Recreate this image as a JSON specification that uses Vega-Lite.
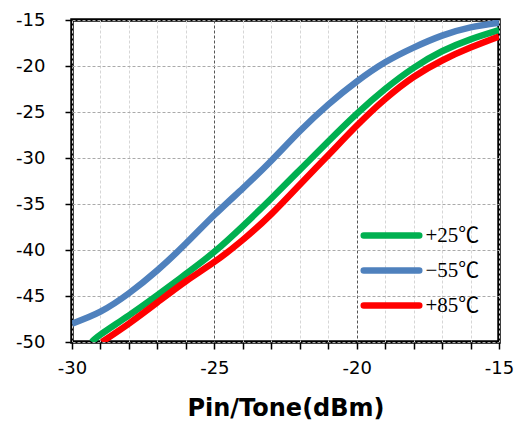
{
  "$schema": "https://vega.github.io/schema/vega-lite/v6.json",
  "width": 427,
  "height": 322,
  "autosize": {"type": "none"},
  "padding": {"left": 72, "top": 20, "right": 21, "bottom": 84},
  "background": "white",
  "config": {
    "view": {"stroke": "black", "strokeWidth": 3.5},
    "axis": {"domain": false, "tickColor": "black", "tickWidth": 1.5, "labelFont": "DejaVu Sans", "labelFontSize": 18, "labelColor": "black"}
  },
  "data": {
    "values": [
      {"x": -30, "y": -48.0, "T": "−55℃"},
      {"x": -29, "y": -46.7, "T": "−55℃"},
      {"x": -28, "y": -44.7, "T": "−55℃"},
      {"x": -27, "y": -42.2, "T": "−55℃"},
      {"x": -26, "y": -39.3, "T": "−55℃"},
      {"x": -25, "y": -36.2, "T": "−55℃"},
      {"x": -24, "y": -33.3, "T": "−55℃"},
      {"x": -23, "y": -30.3, "T": "−55℃"},
      {"x": -22, "y": -27.1, "T": "−55℃"},
      {"x": -21, "y": -24.2, "T": "−55℃"},
      {"x": -20, "y": -21.7, "T": "−55℃"},
      {"x": -19, "y": -19.6, "T": "−55℃"},
      {"x": -18, "y": -18.0, "T": "−55℃"},
      {"x": -17, "y": -16.7, "T": "−55℃"},
      {"x": -16, "y": -15.8, "T": "−55℃"},
      {"x": -15, "y": -15.3, "T": "−55℃"},
      {"x": -29.3, "y": -50, "T": "+25℃"},
      {"x": -29, "y": -49.2, "T": "+25℃"},
      {"x": -28, "y": -47.1, "T": "+25℃"},
      {"x": -27, "y": -44.9, "T": "+25℃"},
      {"x": -26, "y": -42.6, "T": "+25℃"},
      {"x": -25, "y": -40.2, "T": "+25℃"},
      {"x": -24, "y": -37.4, "T": "+25℃"},
      {"x": -23, "y": -34.4, "T": "+25℃"},
      {"x": -22, "y": -31.3, "T": "+25℃"},
      {"x": -21, "y": -28.2, "T": "+25℃"},
      {"x": -20, "y": -25.2, "T": "+25℃"},
      {"x": -19, "y": -22.5, "T": "+25℃"},
      {"x": -18, "y": -20.2, "T": "+25℃"},
      {"x": -17, "y": -18.4, "T": "+25℃"},
      {"x": -16, "y": -17.1, "T": "+25℃"},
      {"x": -15, "y": -16.1, "T": "+25℃"},
      {"x": -28.95, "y": -50, "T": "+85℃"},
      {"x": -28, "y": -48.0, "T": "+85℃"},
      {"x": -27, "y": -45.7, "T": "+85℃"},
      {"x": -26, "y": -43.4, "T": "+85℃"},
      {"x": -25, "y": -41.3, "T": "+85℃"},
      {"x": -24, "y": -38.9, "T": "+85℃"},
      {"x": -23, "y": -36.1, "T": "+85℃"},
      {"x": -22, "y": -32.9, "T": "+85℃"},
      {"x": -21, "y": -29.7, "T": "+85℃"},
      {"x": -20, "y": -26.5, "T": "+85℃"},
      {"x": -19, "y": -23.6, "T": "+85℃"},
      {"x": -18, "y": -21.2, "T": "+85℃"},
      {"x": -17, "y": -19.4, "T": "+85℃"},
      {"x": -16, "y": -18.0, "T": "+85℃"},
      {"x": -15, "y": -16.8, "T": "+85℃"}
    ]
  },
  "mark": {"type": "line", "strokeWidth": 6.5, "interpolate": "natural", "clip": true},
  "encoding": {
    "x": {
      "field": "x", "type": "quantitative",
      "scale": {"domain": [-30, -15], "nice": false, "zero": false},
      "axis": {
        "values": [-30, -29, -28, -27, -26, -25, -24, -23, -22, -21, -20, -19, -18, -17, -16, -15],
        "labelExpr": "datum.value % 5 === 0 ? replace(datum.label, '−', '-') : ''",
        "tickSize": 7,
        "labelPadding": 10,
        "labelFlush": false,
        "gridColor": {"condition": {"test": "datum.value === -25 || datum.value === -20", "value": "#555555"}, "value": "#d6d6d6"},
        "gridDash": [3, 2],
        "gridWidth": 1,
        "title": "Pin/Tone(dBm)",
        "titleFont": "DejaVu Sans",
        "titleFontSize": 24,
        "titleFontWeight": "bold",
        "titleColor": "black",
        "titlePadding": 19
      }
    },
    "y": {
      "field": "y", "type": "quantitative",
      "scale": {"domain": [-50, -15], "nice": false, "zero": false},
      "axis": {
        "values": [-50, -45, -40, -35, -30, -25, -20, -15],
        "labelExpr": "replace(datum.label, '−', '-')",
        "tickSize": 7,
        "labelPadding": 20,
        "labelFlush": false,
        "gridColor": "#aaaaaa",
        "gridDash": [3, 2],
        "gridWidth": 1,
        "title": null
      }
    },
    "color": {
      "field": "T", "type": "nominal",
      "scale": {"domain": ["+25℃", "−55℃", "+85℃"], "range": ["#00B050", "#4F81BD", "#FF0000"]},
      "legend": {
        "orient": "none",
        "legendX": 297.5,
        "legendY": 193.5,
        "title": null,
        "padding": 0,
        "rowPadding": 0,
        "symbolType": "M-1.5,0H1.5",
        "symbolSize": 1369,
        "symbolStrokeWidth": 6.5,
        "labelFont": "Liberation Serif, Noto Sans CJK JP",
        "labelFontSize": 21,
        "labelColor": "black",
        "labelOffset": 12,
        "encode": {"symbols": {"update": {"strokeCap": {"value": "round"}}}}
      }
    },
    "order": {"field": "T"}
  }
}
